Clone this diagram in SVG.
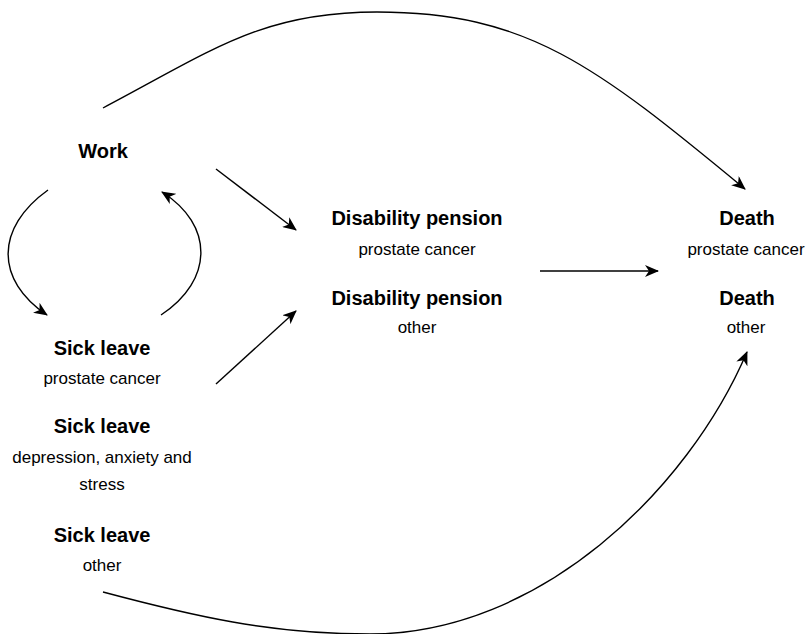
<svg xmlns="http://www.w3.org/2000/svg" width="808" height="634" viewBox="0 0 808 634">
<style>
.t{font-family:"Liberation Sans",Arial,Helvetica,sans-serif;fill:#000;text-anchor:middle}
.b{font-weight:bold;font-size:20px}
.r{font-size:17px}
.e{fill:none;stroke:#000;stroke-width:1.4}
</style>
<defs>
<marker id="arr" markerUnits="userSpaceOnUse" viewBox="0 0 14 12" markerWidth="14" markerHeight="12" refX="13" refY="6" orient="auto">
<path d="M0,0 L14,6 L0,12 L4,6 Z" fill="#000"/>
</marker>
</defs>
<g id="connectors">
<path class="e" d="M103,108 C213,50 262,12 377,12 C527,12 595,65 745,189" marker-end="url(#arr)"/>
<path class="e" d="M103,592 C193,616 270,634 370,634 C540,634 688,490 747,352" marker-end="url(#arr)"/>
<path class="e" d="M48,190 C-5,228 -5,280 47,315" marker-end="url(#arr)"/>
<path class="e" d="M161,315 C214,280 214,225 162,192" marker-end="url(#arr)"/>
<path class="e" d="M216,169 L296,230" marker-end="url(#arr)"/>
<path class="e" d="M216,384 L296,311" marker-end="url(#arr)"/>
<path class="e" d="M540,271 L658,271" marker-end="url(#arr)"/>
</g>
<g id="work">
<text class="t b" x="103" y="158">Work</text>
</g>
<g id="sick-prostate">
<text class="t b" x="102" y="355">Sick leave</text>
<text class="t r" x="102" y="384">prostate cancer</text>
</g>
<g id="sick-depression">
<text class="t b" x="102" y="433">Sick leave</text>
<text class="t r" x="102" y="463">depression, anxiety and</text>
<text class="t r" x="102" y="490">stress</text>
</g>
<g id="sick-other">
<text class="t b" x="102" y="542">Sick leave</text>
<text class="t r" x="102" y="571">other</text>
</g>
<g id="dp-prostate">
<text class="t b" x="417" y="225">Disability pension</text>
<text class="t r" x="417" y="255">prostate cancer</text>
</g>
<g id="dp-other">
<text class="t b" x="417" y="305">Disability pension</text>
<text class="t r" x="417" y="333">other</text>
</g>
<g id="death-prostate">
<text class="t b" x="747" y="225">Death</text>
<text class="t r" x="746" y="255">prostate cancer</text>
</g>
<g id="death-other">
<text class="t b" x="747" y="305">Death</text>
<text class="t r" x="746" y="333">other</text>
</g>
</svg>
